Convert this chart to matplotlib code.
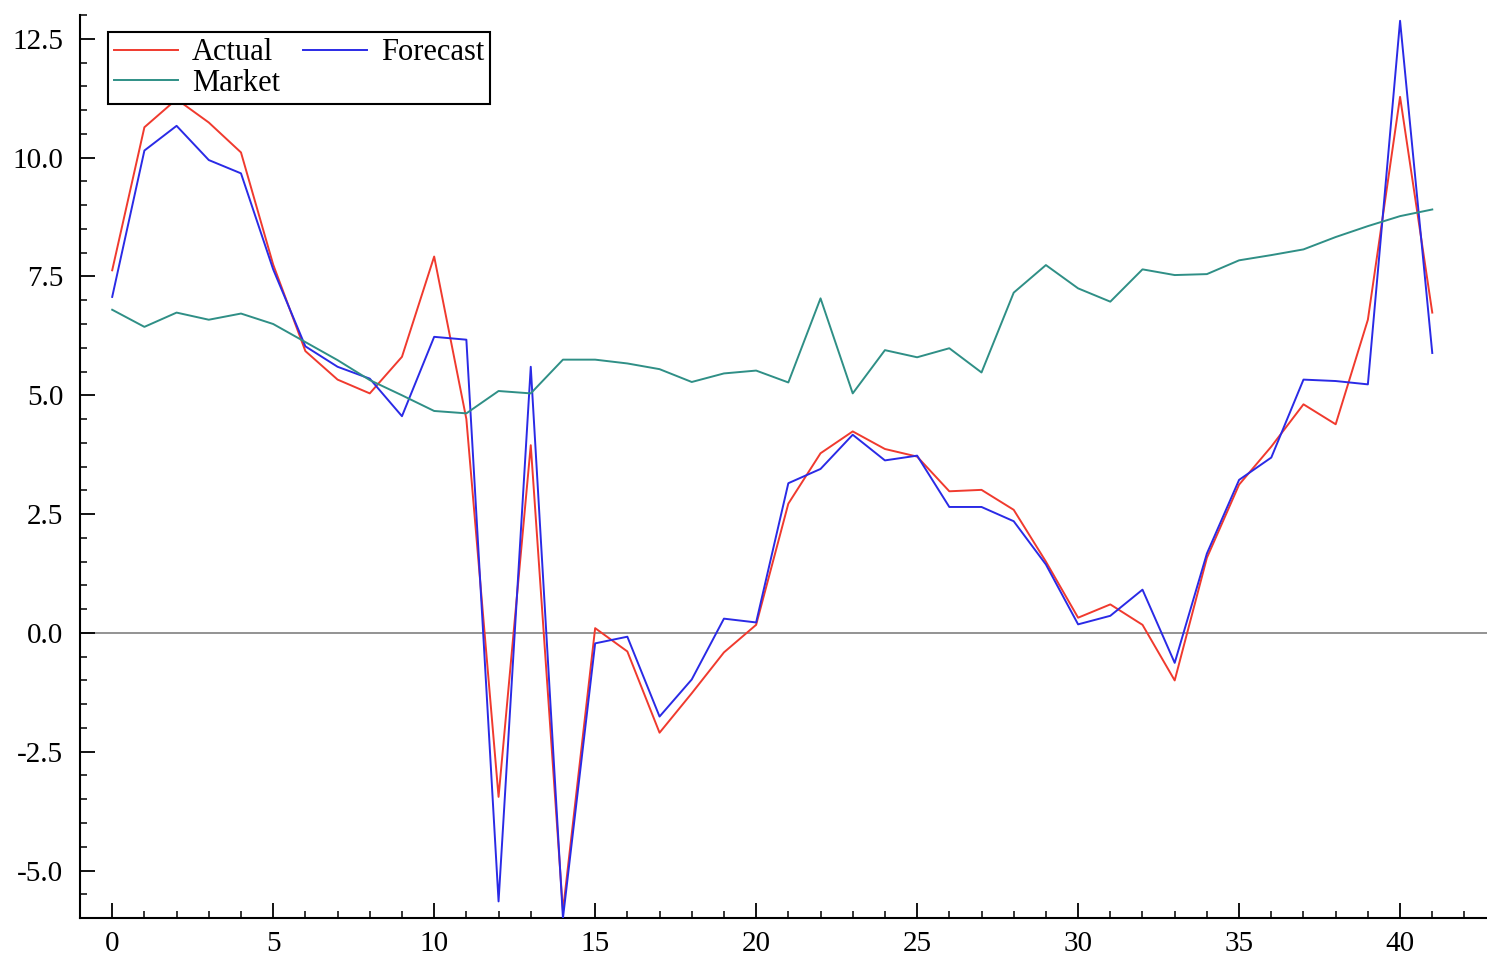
import numpy as np
import matplotlib
matplotlib.use("Agg")
import matplotlib.pyplot as plt
from matplotlib.ticker import MultipleLocator

plt.rcParams['font.family'] = ['Liberation Serif', 'DejaVu Serif']

# values
periods = np.arange(42)
actual = [7.63, 10.64, 11.23, 10.74, 10.11, 7.75, 5.93, 5.33, 5.04, 5.81,
          7.92, 4.5, -3.45, 3.95, -5.85, 0.1, -0.39, -2.1, -1.27, -0.41,
          0.17, 2.72, 3.78, 4.24, 3.87, 3.71, 2.98, 3.01, 2.59, 1.5,
          0.32, 0.6, 0.17, -1.0, 1.58, 3.12, 3.92, 4.81, 4.39, 6.59,
          11.28, 6.74]
forecast = [7.07, 10.15, 10.67, 9.95, 9.67, 7.65, 6.03, 5.6, 5.35, 4.56,
            6.23, 6.17, -5.65, 5.6, -6.0, -0.22, -0.08, -1.76, -0.98, 0.3,
            0.22, 3.15, 3.45, 4.17, 3.63, 3.73, 2.65, 2.65, 2.35, 1.44,
            0.18, 0.36, 0.91, -0.63, 1.67, 3.22, 3.69, 5.33, 5.3, 5.23,
            12.88, 5.89]
market = [6.8, 6.44, 6.74, 6.59, 6.72, 6.5, 6.12, 5.74, 5.32, 5.0,
          4.67, 4.62, 5.09, 5.04, 5.75, 5.75, 5.67, 5.55, 5.28, 5.46,
          5.52, 5.27, 7.04, 5.04, 5.95, 5.8, 5.99, 5.48, 7.16, 7.74,
          7.25, 6.97, 7.65, 7.53, 7.55, 7.84, 7.95, 8.07, 8.33, 8.56,
          8.77, 8.91]

fig = plt.figure(figsize=(14.87, 9.56), dpi=100)
ax = fig.add_axes([0.0538, 0.0397, 0.9462, 0.9445])

ax.axhline(0, color='#808080', lw=1.2, zorder=1)
l_act, = ax.plot(periods, actual, color='#f03a2e', lw=1.4, label='Actual', zorder=2)
l_fc, = ax.plot(periods, forecast, color='#2a2ae6', lw=1.4, label='Forecast', zorder=3)
l_mkt, = ax.plot(periods, market, color='#2f8f86', lw=1.4, label='Market', zorder=4)

ax.set_xlim(-1, 42.7)
ax.set_ylim(-6, 13)

ax.xaxis.set_major_locator(MultipleLocator(5))
ax.xaxis.set_minor_locator(MultipleLocator(1))
ax.yaxis.set_major_locator(MultipleLocator(2.5))
ax.yaxis.set_minor_locator(MultipleLocator(0.5))
ax.yaxis.set_major_formatter(plt.FormatStrFormatter('%.1f'))

for s in ['top', 'right']:
    ax.spines[s].set_visible(False)
for s in ['left', 'bottom']:
    ax.spines[s].set_linewidth(1.5)

ax.tick_params(which='major', direction='in', length=11, width=1.3, labelsize=21)
ax.tick_params(axis='x', which='major', pad=9)
ax.tick_params(axis='y', which='major', pad=12)
ax.tick_params(which='minor', direction='in', length=5, width=1.1)

leg = ax.legend(handles=[l_act, l_mkt, l_fc], ncol=2, loc='upper left',
                bbox_to_anchor=(0.02, 0.981), fontsize=22, frameon=True,
                fancybox=False, edgecolor='black', framealpha=1,
                handlelength=2.1, handletextpad=0.45, columnspacing=0.75,
                labelspacing=0.05, borderpad=0.2, borderaxespad=0)
leg.get_frame().set_linewidth(1.5)

fig.savefig('out.png', dpi=100)
